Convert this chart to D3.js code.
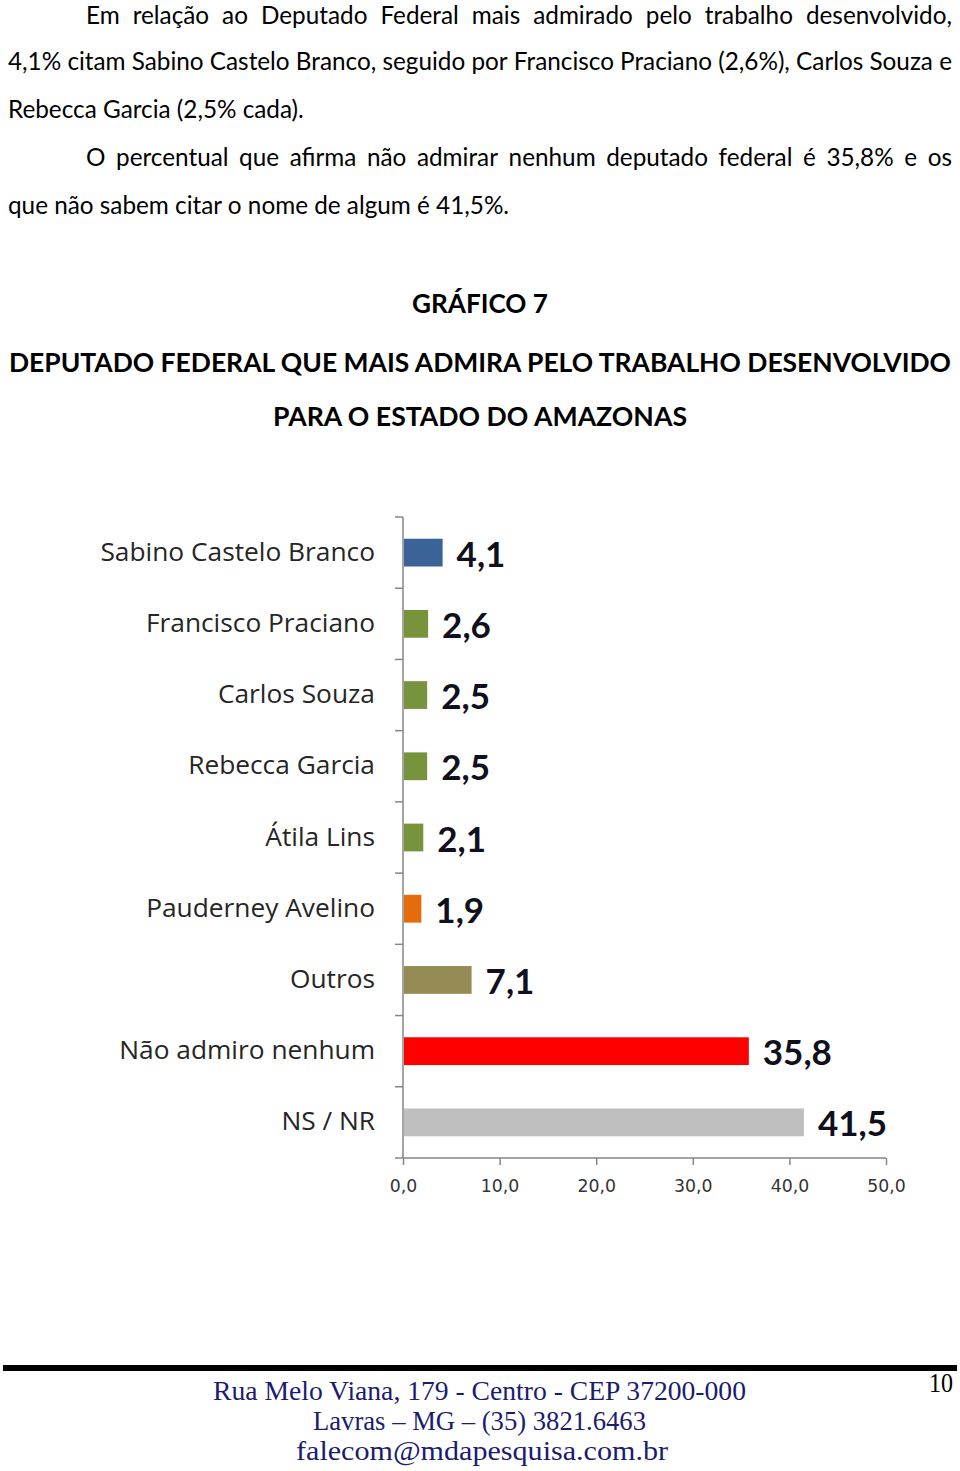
<!DOCTYPE html>
<html><head><meta charset="utf-8">
<script src="https://cdn.jsdelivr.net/npm/d3@7"></script>
<style>
html,body{margin:0;padding:0;background:#fff;}
svg{display:block;}
</style></head>
<body>
<svg id="c" width="960" height="1471"></svg>
<script>
// ---- data ----
const categories = ["Sabino Castelo Branco","Francisco Praciano","Carlos Souza","Rebecca Garcia","Átila Lins","Pauderney Avelino","Outros","Não admiro nenhum","NS / NR"];
const values = [4.1, 2.6, 2.5, 2.5, 2.1, 1.9, 7.1, 35.8, 41.5];
const barColors = ["#3b6397","#77933c","#77933c","#77933c","#77933c","#e46c0a","#948a54","#ff0000","#bfbfbf"];
const xTicks = [0,10,20,30,40,50];
const paragraphLines = [
  {text:"Em relação ao Deputado Federal mais admirado pelo trabalho desenvolvido,", indent:true, justify:true},
  {text:"4,1% citam Sabino Castelo Branco, seguido por Francisco Praciano (2,6%), Carlos Souza e", indent:false, justify:true},
  {text:"Rebecca Garcia (2,5% cada).", indent:false, justify:false},
  {text:"O percentual que afirma não admirar nenhum deputado federal é 35,8% e os", indent:true, justify:true},
  {text:"que não sabem citar o nome de algum é 41,5%.", indent:false, justify:false}
];
const titleLines = ["GRÁFICO 7","DEPUTADO FEDERAL QUE MAIS ADMIRA PELO TRABALHO DESENVOLVIDO","PARA O ESTADO DO AMAZONAS"];
const footerLines = ["Rua Melo Viana, 179 - Centro - CEP 37200-000","Lavras – MG – (35) 3821.6463","falecom@mdapesquisa.com.br"];
const pageNumber = "10";

const svg = d3.select("#c");
const fmt = v => d3.format(".1f")(v).replace(".", ",");

// ---- paragraph ----
const bodyFont = "Lato, 'Open Sans', sans-serif";
const bodySize = 24.3;
const baselines = [23.5, 69.5, 117.5, 165.5, 213.5];
paragraphLines.forEach((ln, i) => {
  const x0 = ln.indent ? 86 : 8, x1 = 952;
  const y = baselines[i];
  if (!ln.justify) {
    svg.append("text").attr("x", x0).attr("y", y)
      .attr("font-family", bodyFont).attr("font-size", bodySize).attr("fill", "#000")
      .text(ln.text);
    return;
  }
  const words = ln.text.split(" ");
  const nodes = words.map(w => svg.append("text").attr("y", y)
      .attr("font-family", bodyFont).attr("font-size", bodySize).attr("fill", "#000").text(w));
  let widths = nodes.map(n => n.node().getComputedTextLength());
  let total = d3.sum(widths);
  const minGap = 5;
  const avail = x1 - x0;
  if (total + minGap * (words.length - 1) > avail) {
    const s = (avail - minGap * (words.length - 1)) / total;
    nodes.forEach(n => n.attr("font-size", bodySize * s));
    widths = nodes.map(n => n.node().getComputedTextLength());
    total = d3.sum(widths);
  }
  const gap = (avail - total) / (words.length - 1);
  let x = x0;
  nodes.forEach((n, k) => { n.attr("x", x); x += widths[k] + gap; });
});

// ---- titles ----
const titleFont = "Lato, 'Open Sans', sans-serif";
const titleSpecs = [{y:313, w:136}, {y:372, w:942}, {y:426, w:414}];
titleLines.forEach((t, i) => {
  svg.append("text").attr("x", 480).attr("y", titleSpecs[i].y)
    .attr("text-anchor", "middle").attr("font-family", titleFont)
    .attr("font-weight", 700).attr("font-size", 26.5).attr("fill", "#000")
    .attr("textLength", titleSpecs[i].w).attr("lengthAdjust", "spacingAndGlyphs")
    .text(t);
});

// ---- chart ----
const x = d3.scaleLinear().domain([0, 50]).range([403, 886]);
const y = d3.scaleBand().domain(categories).range([517, 1158]).paddingInner(0).paddingOuter(0);
const step = y.step();
const barH = step * 0.39;
const axisColor = "#868686";

const g = svg.append("g");

// bars
g.selectAll("rect.bar").data(categories).enter().append("rect")
  .attr("class", "bar")
  .attr("x", x(0) + 1)
  .attr("y", d => y(d) + (step - barH) / 2)
  .attr("width", (d, i) => x(values[i]) - x(0) - 1)
  .attr("height", barH)
  .attr("fill", (d, i) => barColors[i]);

// left axis
g.append("line").attr("x1", x(0)).attr("x2", x(0)).attr("y1", 517).attr("y2", 1158)
  .attr("stroke", axisColor).attr("stroke-width", 1.5);
const bounds = d3.range(categories.length + 1).map(k => 517 + k * step);
g.selectAll("line.yt").data(bounds).enter().append("line")
  .attr("x1", x(0) - 8).attr("x2", x(0)).attr("y1", d => d).attr("y2", d => d)
  .attr("stroke", axisColor).attr("stroke-width", 1.5);

// category labels
g.selectAll("text.cat").data(categories).enter().append("text")
  .attr("x", 375).attr("y", d => y(d) + step / 2 + 1)
  .attr("text-anchor", "end").attr("dominant-baseline", "middle")
  .attr("font-family", "'Open Sans', sans-serif").attr("font-size", 26.3)
  .attr("fill", "#262626").text(d => d);

// value labels
g.selectAll("text.val").data(categories).enter().append("text")
  .attr("x", (d, i) => x(values[i]) + 14)
  .attr("y", d => y(d) + step / 2 + 14)
  .attr("font-family", "Lato, sans-serif").attr("font-weight", 700)
  .attr("font-size", 35).attr("fill", "#10101c")
  .text((d, i) => fmt(values[i]));

// bottom axis
const xAxis = d3.axisBottom(x).tickValues(xTicks).tickSize(7).tickPadding(15).tickFormat(fmt);
const xa = g.append("g").attr("transform", "translate(0,1158)").call(xAxis);
xa.select(".domain").attr("stroke", axisColor).attr("stroke-width", 1.5).attr("d", `M${x(0)},0H${x(50)}`);
xa.selectAll(".tick line").attr("stroke", axisColor).attr("stroke-width", 1.5);
xa.selectAll(".tick text").attr("font-family", "'DejaVu Sans', sans-serif")
  .attr("font-size", 17.3).attr("fill", "#333");

// ---- footer ----
svg.append("rect").attr("x", 3).attr("y", 1365).attr("width", 954).attr("height", 6).attr("fill", "#000");
const footSpecs = [{y:1400, x0:213, w:533}, {y:1430, x0:313, w:333}, {y:1460, x0:296, w:372}];
footerLines.forEach((t, i) => {
  svg.append("text").attr("x", footSpecs[i].x0).attr("y", footSpecs[i].y)
    .attr("font-family", "'Liberation Serif', serif").attr("font-size", 28)
    .attr("fill", "#1c1c6e")
    .attr("textLength", footSpecs[i].w).attr("lengthAdjust", "spacingAndGlyphs")
    .text(t);
});
svg.append("text").attr("x", 953).attr("y", 1392).attr("text-anchor", "end")
  .attr("font-family", "'Liberation Serif', serif").attr("font-size", 27)
  .attr("fill", "#000").attr("textLength", 24).attr("lengthAdjust", "spacingAndGlyphs")
  .text(pageNumber);
</script>
</body></html>
